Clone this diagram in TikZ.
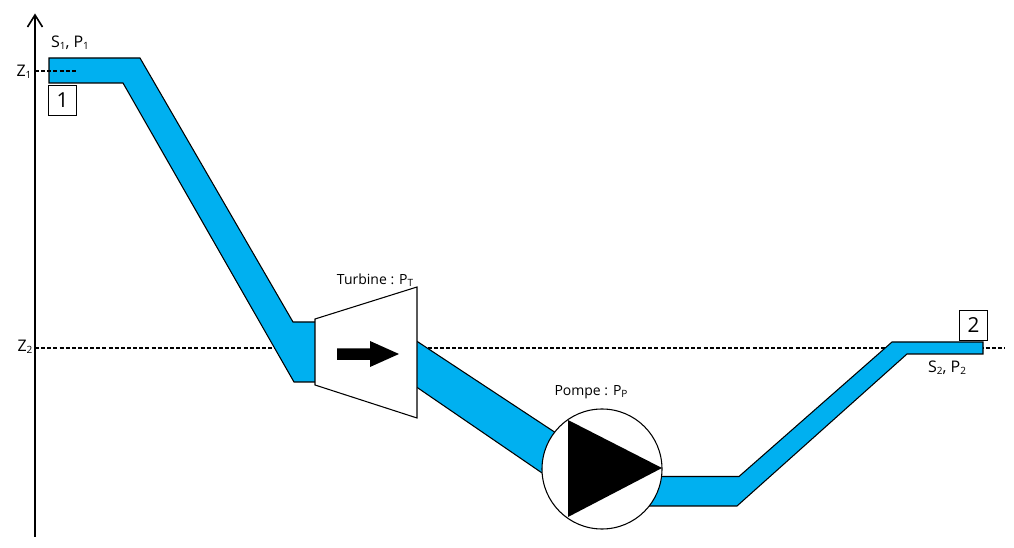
\documentclass[tikz,border=0pt]{standalone}
\usepackage{fontspec}
\setmainfont{Open Sans}
\definecolor{pipeblue}{RGB}{0,176,240}
\newcommand{\lowsub}[1]{\raisebox{-0.25ex}{\fontsize{7.5pt}{8pt}\selectfont #1}}
\tikzset{
  pipe/.style={fill=pipeblue,draw=black,line width=0.8pt,line join=miter},
  device/.style={fill=white,draw=black,line width=0.8pt},
  level/.style={draw=black,line width=0.8pt,dash pattern=on 3pt off 1.6pt},
  lab/.style={font=\fontsize{10.5pt}{12pt}\selectfont,inner sep=0pt,anchor=center},
  biglab/.style={font=\fontsize{12pt}{14pt}\selectfont,inner sep=0pt,anchor=center},
  tag/.style={draw=black,line width=0.7pt,fill=white,font=\fontsize{15.5pt}{17pt}\selectfont,
    minimum width=20.5pt,minimum height=22.5pt,inner sep=0pt},
}
\begin{document}
\begin{tikzpicture}[x=0.75pt,y=-0.75pt]
\useasboundingbox (0,0) rectangle (1014,548);
% datum lines
\draw[level] (35,348) -- (1005,348);
% pipes
\draw[pipe] (76,58) -- (140,58) -- (293,322) -- (318,322) -- (318,382) -- (294,382) -- (123,83) -- (49,83) -- (49,58) -- cycle;
\draw[pipe] (415,340) -- (556,433) -- (545,475) -- (415,386) -- cycle;
\draw[pipe] (650,476.5) -- (739,476.5) -- (892,342) -- (983,342) -- (983,354) -- (907,354) -- (737,506) -- (640,506) -- cycle;
\draw[level] (35,71) -- (77,71);
% axis
\draw[line width=1.5pt,line cap=butt] (35,537) -- (35,16);
\draw[line width=1.2pt,line join=miter] (27.5,27) -- (35,15) -- (42.5,27);
% turbine
\draw[device] (315,319) -- (417,287) -- (417,418) -- (315,385) -- cycle;
\fill[black] (337,348.5) -- (370,348.5) -- (370,341) -- (399,354) -- (370,367) -- (370,360) -- (337,360) -- cycle;
% pump
\draw[device] (602,469) circle (60);
\fill[black] (568,420) -- (662,468) -- (568,517) -- cycle;
% tags
\node[tag] (tagA) at (62.5,100) {1};
\node[tag] (tagB) at (973.5,325.5) {2};
% labels
\node[biglab] (sA) at (70,43) {S\lowsub{1}, P\lowsub{1}};
\node[biglab] (zA) at (24,72) {Z\lowsub{1}};
\node[biglab] (zB) at (25,347) {Z\lowsub{2}};
\node[lab] (turb) at (375,280) {Turbine : P\lowsub{T}};
\node[lab] (pomp) at (591,392) {Pompe : P\lowsub{P}};
\node[biglab] (sB) at (947,368) {S\lowsub{2}, P\lowsub{2}};
\end{tikzpicture}
\end{document}
